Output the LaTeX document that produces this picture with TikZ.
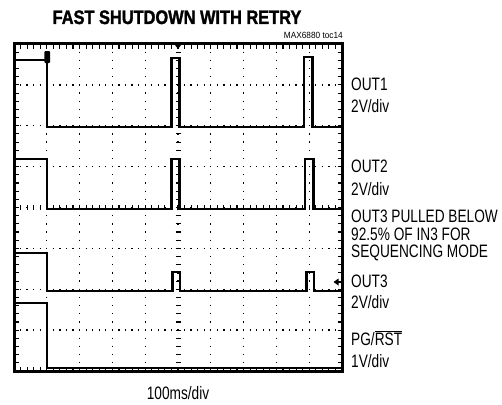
\documentclass[tikz,border=0pt]{standalone}
\usepackage{fontspec}
\setmainfont{Liberation Sans}
\newfontfamily\lblfont[FakeStretch=0.76]{Liberation Sans}
\newfontfamily\ttlfont[FakeStretch=0.84,FakeBold=1.5]{Liberation Sans}
\newfontfamily\smfont[FakeStretch=0.92]{Liberation Sans}
\begin{document}
\begin{tikzpicture}[x=1pt,y=-1pt,
  lbl/.style={anchor=base west, inner sep=0pt, font=\lblfont\fontsize{18}{18}\selectfont},
  trace/.style={line width=2.3pt, line join=miter},
  vdots/.style={line width=1.3pt, dash pattern=on 1.3pt off 6.875pt, dash phase=0.65pt},
  hdots/.style={line width=1.3pt, dash pattern=on 1.3pt off 5.26pt, dash phase=0.65pt},
  tick/.style={line width=1.1pt},
  frame/.style={line width=3pt}]
\fill[white] (0,0) rectangle (502,404);
\useasboundingbox (0,0) rectangle (502,404);
% grid
\foreach \k in {1,...,9}{\draw[vdots] ({14+32.8*\k},44) -- ({14+32.8*\k},371);}
\foreach \k in {1,...,7}{\draw[hdots] (14,{44+40.875*\k}) -- (342,{44+40.875*\k});}
% centre axis ticks
\foreach \j in {1,...,39}{\draw[tick] (175.5,{44+8.175*\j}) -- (180.5,{44+8.175*\j});}
\foreach \i in {1,...,49}{\draw[tick] ({14+6.56*\i},205.1) -- ({14+6.56*\i},210.1);}
% edge ticks
\foreach \i in {1,...,49}{
  \draw[tick] ({14+6.56*\i},44) -- ++(0,4.5);
  \draw[tick] ({14+6.56*\i},371) -- ++(0,-4.5);}
\foreach \j in {1,...,39}{
  \draw[tick] (14,{44+8.175*\j}) -- ++(4.5,0);
  \draw[tick] (342,{44+8.175*\j}) -- ++(-4.5,0);}
% traces
\draw[trace] (14,60) -- (47,60) -- (47,127) -- (171.5,127) -- (171.5,58) -- (179.5,58) -- (179.5,127) -- (304,127) -- (304,57) -- (312.5,57) -- (312.5,127) -- (342,127);
\draw[trace] (14,159) -- (47,159) -- (47,209) -- (171.5,209) -- (171.5,159) -- (179.5,159) -- (179.5,209) -- (305,209) -- (305,159) -- (313.5,159) -- (313.5,209) -- (342,209);
\draw[trace] (14,253) -- (47,253) -- (47,291) -- (172.5,291) -- (172.5,272) -- (180,272) -- (180,291) -- (306.5,291) -- (306.5,272) -- (314,272) -- (314,291) -- (342,291);
\draw[trace] (14,303) -- (47,303) -- (47,368) -- (342,368);
% markers
\fill (173.5,43) -- (182.5,43) -- (178,49) -- cycle;
\fill[rounded corners=1pt] (44.3,51) rectangle (50,63);
\fill (333.5,282) -- (338.5,278.5) -- (338.5,285.5) -- cycle;
\draw[line width=1pt] (337,282) -- (342,282);
% frame
\draw[frame] (14,44) rectangle (342,371);
% texts
\node[anchor=base, inner sep=0pt, font=\ttlfont\bfseries\fontsize{19.5}{20}\selectfont] (title) at (177,24) {FAST SHUTDOWN WITH RETRY};
\node[anchor=base east, inner sep=0pt, font=\smfont\fontsize{9}{9}\selectfont] (toc) at (343,38) {MAX6880 toc14};
\node[lbl] (o1) at (351,90) {OUT1};
\node[lbl] (o1s) at (351,112) {2V/div};
\node[lbl] (o2) at (351,172) {OUT2};
\node[lbl] (o2s) at (351,195) {2V/div};
\node[lbl] (n1) at (351,222) {OUT3 PULLED BELOW};
\node[lbl] (n2) at (351,240) {92.5\% OF IN3 FOR};
\node[lbl] (n3) at (351,257) {SEQUENCING MODE};
\node[lbl] (o3) at (351,287) {OUT3};
\node[lbl] (o3s) at (351,308) {2V/div};
\node[lbl] (pg) at (351,345) {PG/$\overline{\hbox{RST}}$};
\node[lbl] (pgs) at (351,367) {1V/div};
\node[lbl, anchor=base] (tb) at (178,399.5) {100ms/div};
\end{tikzpicture}
\end{document}
